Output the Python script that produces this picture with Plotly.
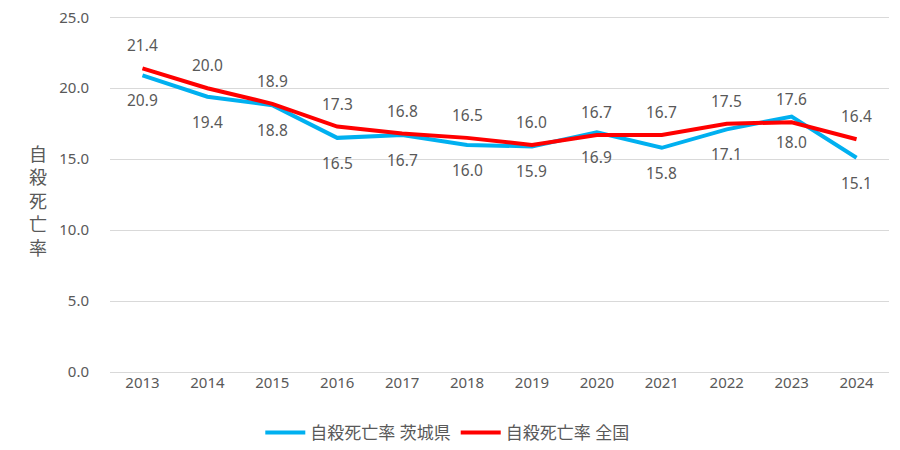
import plotly.graph_objects as go

years = ["2013", "2014", "2015", "2016", "2017", "2018", "2019", "2020", "2021", "2022", "2023", "2024"]
ibaraki = [20.9, 19.4, 18.8, 16.5, 16.7, 16.0, 15.9, 16.9, 15.8, 17.1, 18.0, 15.1]
national = [21.4, 20.0, 18.9, 17.3, 16.8, 16.5, 16.0, 16.7, 16.7, 17.5, 17.6, 16.4]
name_ibaraki = "自殺死亡率 茨城県"
name_national = "自殺死亡率 全国"
y_title = "自殺死亡率"
y_ticks = [0, 5, 10, 15, 20, 25]

font_fam = "Noto Sans, Noto Sans CJK JP, sans-serif"
txt_col = "#595959"

fig = go.Figure()
fig.add_trace(go.Scatter(x=years, y=ibaraki, mode="lines", name=name_ibaraki,
                         line=dict(color="#00B0F0", width=4)))
fig.add_trace(go.Scatter(x=years, y=national, mode="lines", name=name_national,
                         line=dict(color="#FF0000", width=4)))

annotations = []
for i, v in enumerate(national):
    annotations.append(dict(x=i, y=v, xref="x", yref="y", text=f"{v:.1f}", showarrow=False, yshift=23,
                            font=dict(size=15.5, color=txt_col, family=font_fam)))
for i, v in enumerate(ibaraki):
    annotations.append(dict(x=i, y=v, xref="x", yref="y", text=f"{v:.1f}", showarrow=False, yshift=-25,
                            font=dict(size=15.5, color=txt_col, family=font_fam)))
annotations.append(dict(xref="paper", yref="paper", x=-0.0924, y=0.475, xanchor="center", yanchor="middle",
                        text="<br>".join(list(y_title)), showarrow=False,
                        font=dict(size=18, color=txt_col, family=font_fam)))

fig.update_layout(
    width=900, height=450,
    margin=dict(l=110, r=11, t=13, b=78, autoexpand=False),
    paper_bgcolor="white", plot_bgcolor="white",
    font=dict(family=font_fam, color=txt_col, size=15),
    annotations=annotations,
    showlegend=True,
    legend=dict(orientation="h", x=0.497, xref="container", xanchor="center",
                y=0.038, yref="container", yanchor="middle",
                font=dict(size=17, color=txt_col), itemwidth=40),
    xaxis=dict(type="category", range=[-0.5, 11.5], showgrid=False, ticks="",
               showline=False, automargin=False, tickfont=dict(size=15, color=txt_col)),
    yaxis=dict(range=[0, 25.3], tickvals=y_ticks, ticktext=[f"{t:.1f}" for t in y_ticks],
               showgrid=True, gridcolor="#D9D9D9", gridwidth=1, zeroline=True,
               zerolinecolor="#D9D9D9", zerolinewidth=1, showline=False, automargin=False,
               tickfont=dict(size=15, color=txt_col), ticklabelstandoff=20),
)

fig.write_html("out.html", config={"displayModeBar": False},
               post_script="document.body.style.margin='0';document.body.style.overflow='hidden';")
